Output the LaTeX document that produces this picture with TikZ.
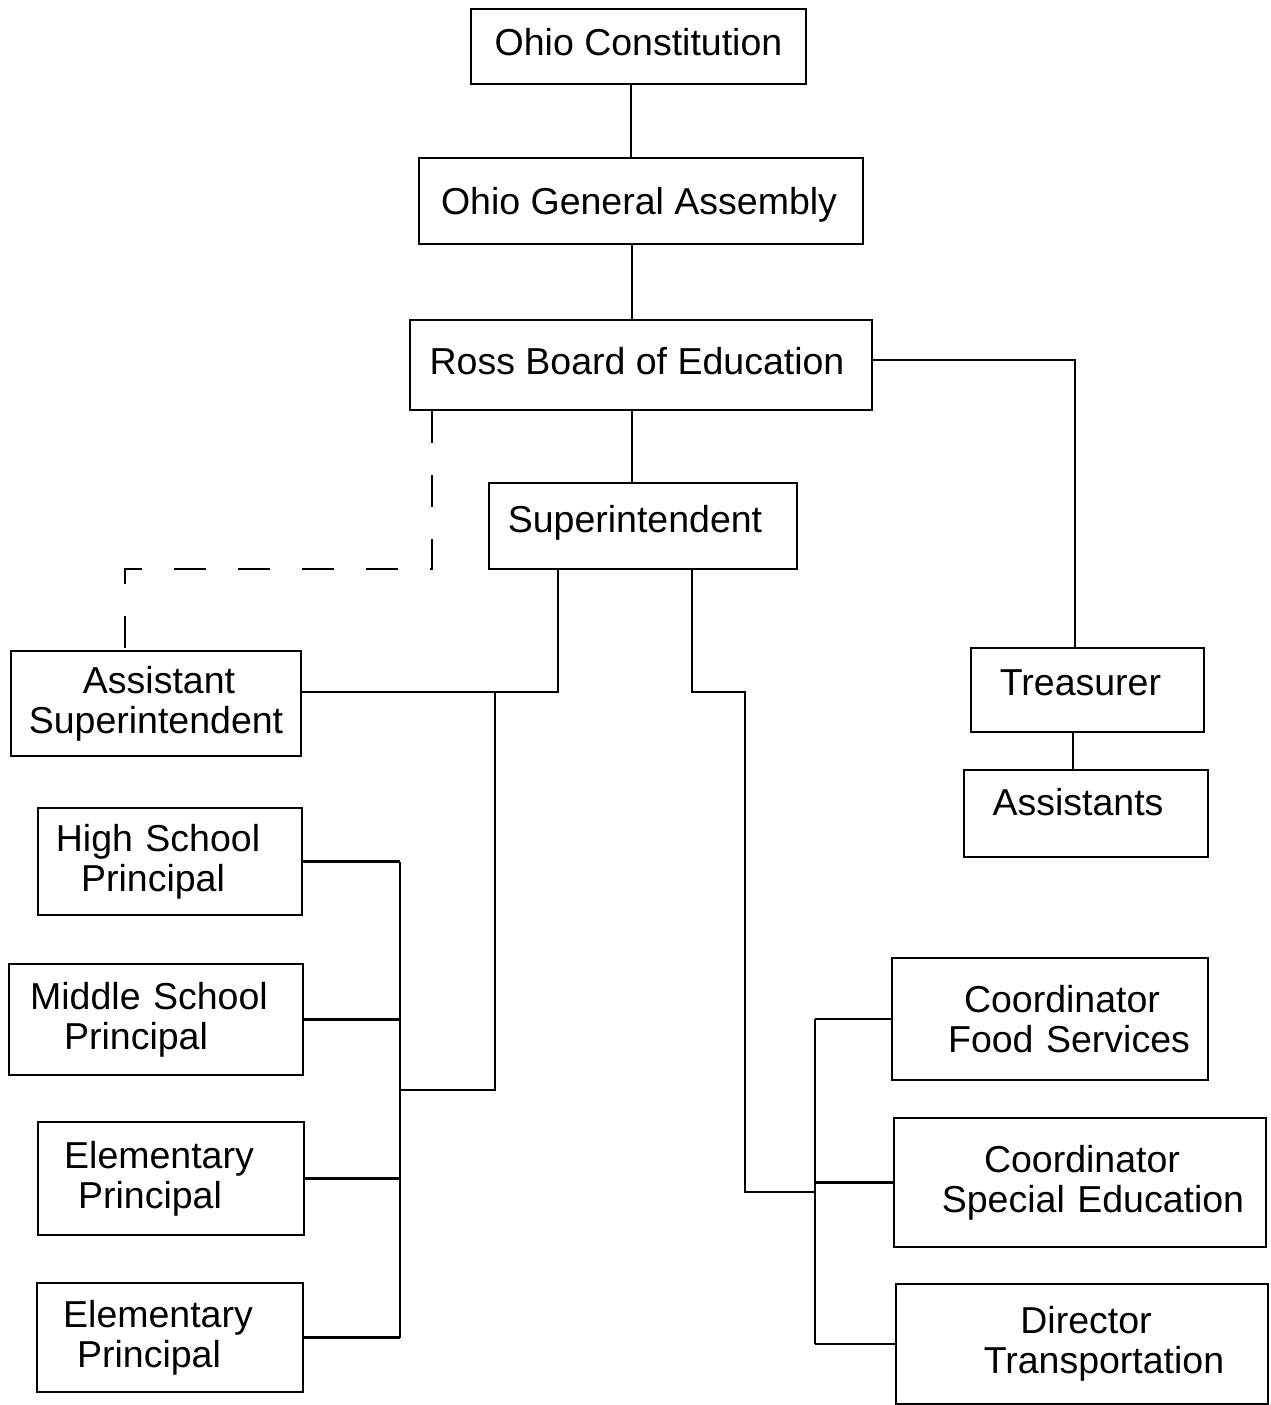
\documentclass[tikz,border=0pt]{standalone}
\usepackage{fontspec}
\setmainfont{Liberation Sans}
\begin{document}
\begin{tikzpicture}[x=1pt,y=-1pt,
  box/.style={draw, line width=2.5pt, inner sep=0pt,
    font=\fontsize{37.5}{40}\selectfont},
  twoline/.style={box, align=center},
  conn/.style={line width=2.5pt},
  dashconn/.style={line width=2.5pt, dash pattern=on 32pt off 32pt}]
\useasboundingbox[fill=white] (0,0) rectangle (1270,1405);

\node[box, minimum width=335pt, minimum height=75pt, text depth=10pt] (const) at (638.5,46.5) {Ohio Constitution};
\node[box, minimum width=444pt, minimum height=86pt, text depth=0pt] (oga) at (641,201) {\hspace*{-4pt}Ohio General Assembly};
\node[box, minimum width=462pt, minimum height=90pt, text depth=8pt] (ross) at (641,365) {\hspace*{-8pt}Ross Board of Education};
\node[box, minimum width=308pt, minimum height=86pt, text depth=14pt] (supt) at (643,526) {\hspace*{-16pt}Superintendent};
\node[box, minimum width=233pt, minimum height=84pt, text depth=14pt] (treas) at (1087.5,690) {\hspace*{-14pt}Treasurer};
\node[box, minimum width=244pt, minimum height=87pt, text depth=24pt] (assts) at (1086,813.5) {\hspace*{-16pt}Assistants};

\node[twoline, text width=290pt, minimum height=105pt] (asup) at (156,703.5) {\hspace*{6pt}Assistant\\Superintendent};
\node[twoline, text width=264pt, minimum height=107pt] (hsp) at (170,861.5) {\hspace*{-24pt}High School\\\hspace*{-34pt}Principal};
\node[twoline, text width=294pt, minimum height=111pt] (msp) at (156,1019.5) {\hspace*{-14pt}Middle School\\\hspace*{-40pt}Principal};
\node[twoline, text width=266pt, minimum height=113pt] (ep1) at (171,1178.5) {\hspace*{-24pt}Elementary\\\hspace*{-42pt}Principal};
\node[twoline, text width=266pt, minimum height=109pt] (ep2) at (170,1337.5) {\hspace*{-24pt}Elementary\\\hspace*{-42pt}Principal};
\node[twoline, text width=316pt, minimum height=122pt] (cfs) at (1050,1019) {\hspace*{24pt}Coordinator\\\hspace*{38pt}Food Services};
\node[twoline, text width=372pt, minimum height=129pt] (cse) at (1080,1182.5) {\hspace*{4pt}Coordinator\\\hspace*{26pt}Special Education};
\node[twoline, text width=372pt, minimum height=120pt] (dtr) at (1082,1344) {\hspace*{8pt}Director\\\hspace*{44pt}Transportation};

\coordinate (xa) at (631,0);
\coordinate (xb) at (632,0);
\coordinate (rt) at (1075,360);
\coordinate (xt2) at (1073,0);
\coordinate (dj) at (432,569);
\coordinate (dk) at (125,569);
\coordinate (sl) at (558,692);
\coordinate (pj) at (495,692);
\coordinate (pb) at (400,1090);
\coordinate (sr) at (692,692);
\coordinate (sr2) at (745,692);
\coordinate (cb) at (815,1192);

\draw[conn] (xa |- const.south) -- (xa |- oga.north);
\draw[conn] (xb |- oga.south) -- (xb |- ross.north);
\draw[conn] (xb |- ross.south) -- (xb |- supt.north);
\draw[conn] (rt -| ross.east) -- (rt) -- (rt |- treas.north);
\draw[conn] (xt2 |- treas.south) -- (xt2 |- assts.north);
\draw[dashconn] (dj |- ross.south) -- (dj) -- (dk) -- (dk |- asup.north);
\draw[conn] (sl |- supt.south) -- (sl) -- (sl -| asup.east);
\draw[conn] (pj) -- (pj |- pb) -- (pb);
\draw[conn] (pb |- hsp.east) -- (pb |- ep2.east);
\draw[conn] (hsp.east) -- (pb |- hsp.east);
\draw[conn] (msp.east) -- (pb |- msp.east);
\draw[conn] (ep1.east) -- (pb |- ep1.east);
\draw[conn] (ep2.east) -- (pb |- ep2.east);
\draw[conn] (sr |- supt.south) -- (sr) -- (sr2) |- (cb);
\draw[conn] (cb |- cfs.west) -- (cb |- dtr.west);
\draw[conn] (cb |- cfs.west) -- (cfs.west);
\draw[conn] (cb |- cse.west) -- (cse.west);
\draw[conn] (cb |- dtr.west) -- (dtr.west);
\end{tikzpicture}
\end{document}
